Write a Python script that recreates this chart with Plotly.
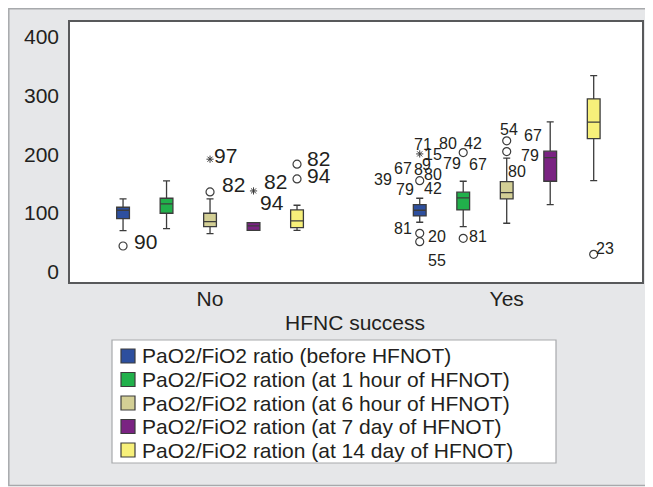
import plotly.graph_objects as go

# ---------------- data ----------------
categories = ["No", "Yes"]
series_names = [
    "PaO2/FiO2 ratio (before HFNOT)",
    "PaO2/FiO2 ration (at 1 hour of HFNOT)",
    "PaO2/FiO2 ration (at 6 hour of HFNOT)",
    "PaO2/FiO2 ration (at 7 day of HFNOT)",
    "PaO2/FiO2 ration (at 14 day of HFNOT)",
]
# per series: [No, Yes]
lower_fence = [[69.8, 84.2], [73.3, 76.7], [64.7, 82.5], [70.5, 114.1], [70.5, 155.0]]
q1_vals     = [[90.3, 94.9], [99.5, 105.1], [76.7, 123.9], [70.5, 154.0], [75.0, 226.6]]
median_vals = [[104.6, 104.6], [115.3, 125.6], [85.2, 134.6], [77.9, 194.2], [86.4, 254.5]]
q3_vals     = [[109.7, 114.1], [125.0, 135.3], [99.5, 153.3], [83.5, 205.1], [105.1, 294.2]]
upper_fence = [[123.9, 125.0], [154.5, 154.0], [123.9, 193.2], [83.5, 255.0], [113.1, 333.9]]

# outliers: (series index, category index, value)
circle_outliers = [
    (0, 0, 43.8),
    (2, 0, 135.8),
    (4, 0, 183.0), (4, 0, 157.9),
    (0, 1, 155.0), (0, 1, 65.4), (0, 1, 51.1),
    (1, 1, 202.7), (1, 1, 56.9),
    (2, 1, 222.7), (2, 1, 204.4),
    (4, 1, 29.6),
]
star_outliers = [
    (2, 0, 191.5),
    (3, 0, 137.5),
    (0, 1, 200.5),
]

# case-number labels (text, x, y) in axis units
labels_no = [
    ("90", -0.264, 51.0), ("97", 0.008, 197.0), ("82", 0.034, 147.7),
    ("82", 0.176, 153.0), ("94", 0.162, 117.5),
    ("82", 0.320, 193.0), ("94", 0.320, 163.5),
]
labels_yes = [
    ("71", 0.719, 215.9), ("80", 0.803, 218.7), ("42", 0.887, 218.7),
    ("15", 0.753, 200.0), ("67", 0.652, 176.1), ("8", 0.702, 173.3),
    ("9", 0.730, 183.0), ("79", 0.815, 184.7), ("67", 0.904, 181.8),
    ("39", 0.584, 156.2), ("80", 0.753, 164.7), ("79", 0.657, 139.2),
    ("42", 0.753, 142.1), ("81", 0.652, 73.9), ("20", 0.764, 59.6),
    ("55", 0.764, 19.9), ("81", 0.904, 59.6), ("54", 1.009, 241.4),
    ("80", 1.034, 170.4), ("67", 1.090, 231.2), ("79", 1.079, 197.6),
    ("23", 1.331, 39.9),
]

y_ticks = [0, 100, 200, 300, 400]

# ---------------- style ----------------
colors = ["#2d4f9e", "#21b04b", "#d3cf95", "#7a2382", "#f7f07a"]
edge = "#3c3c3c"
txt = "#231f20"
font_family = "Liberation Sans, Arial, sans-serif"
slot = 0.1466
box_w = 0.043

def xpos(si, ci):
    return ci + (si - 2) * slot

# page-pixel helpers (plot area on the page: x 70..642, y 22..282)
def px(x):
    return (x - 70) / 572.0

def py(y):
    return (282 - y) / 260.0

fig = go.Figure()
for si, name in enumerate(series_names):
    fig.add_trace(go.Box(
        name=name,
        x=[xpos(si, ci) for ci in range(len(categories))],
        q1=q1_vals[si], median=median_vals[si], q3=q3_vals[si],
        lowerfence=lower_fence[si], upperfence=upper_fence[si],
        width=box_w, whiskerwidth=0.55,
        fillcolor=colors[si],
        line=dict(color=edge, width=1.3),
        boxpoints=False, hoverinfo="skip", showlegend=False,
    ))

fig.add_trace(go.Scatter(
    x=[xpos(s, c) for s, c, v in circle_outliers],
    y=[v for s, c, v in circle_outliers],
    mode="markers", showlegend=False, hoverinfo="skip",
    marker=dict(symbol="circle-open", size=8, color=edge, line=dict(width=1.2)),
))
fig.add_trace(go.Scatter(
    x=[xpos(s, c) for s, c, v in star_outliers],
    y=[v for s, c, v in star_outliers],
    mode="markers", showlegend=False, hoverinfo="skip",
    marker=dict(symbol="asterisk-open", size=6, color=edge, line=dict(width=1)),
))

annotations = []
for t, x, y in labels_no:
    annotations.append(dict(x=x, y=y, xref="x", yref="y", text=t, showarrow=False,
                            xanchor="left", yanchor="middle",
                            font=dict(size=21, color=txt, family=font_family)))
for t, x, y in labels_yes:
    annotations.append(dict(x=x, y=y, xref="x", yref="y", text=t, showarrow=False,
                            xanchor="center", yanchor="middle",
                            font=dict(size=16, color=txt, family=font_family)))
annotations.append(dict(x=px(355), y=py(323), xref="paper", yref="paper", text="HFNC success",
                        showarrow=False, xanchor="center", yanchor="middle",
                        font=dict(size=21, color=txt, family=font_family)))

shapes = [
    dict(type="rect", xref="paper", yref="paper", layer="below",
         x0=px(8.8), x1=px(670), y0=py(485.5), y1=py(8.8),
         fillcolor="#e6e7e9", line=dict(color="#a7a9ac", width=1.5)),
    dict(type="rect", xref="paper", yref="paper", layer="below",
         x0=0, x1=1, y0=0, y1=1, fillcolor="white", line=dict(width=0)),
    dict(type="rect", xref="paper", yref="paper", layer="below",
         x0=px(112), x1=px(556), y0=py(463), y1=py(340),
         fillcolor="white", line=dict(color="#a7a9ac", width=1.2)),
]

# hand-drawn legend (square swatch + real text per series)
row0, row_step = 356.0, 23.5
for si, name in enumerate(series_names):
    cy = row0 + si * row_step
    shapes.append(dict(type="rect", xref="paper", yref="paper", layer="above",
                       x0=px(121), x1=px(135), y0=py(cy + 7), y1=py(cy - 7),
                       fillcolor=colors[si], line=dict(color="#3c3c3c", width=1.2)))
    annotations.append(dict(x=px(140), y=py(cy), xref="paper", yref="paper", text=name,
                            showarrow=False, xanchor="left", yanchor="middle",
                            font=dict(size=21, color=txt, family=font_family)))

# the page body adds an 8 px offset, so the figure is 8 px smaller and margins shifted
OFF = 8
fig.update_layout(
    width=653 - OFF, height=487 - OFF,
    margin=dict(l=70 - OFF, r=11, t=22 - OFF, b=205, autoexpand=False),
    paper_bgcolor="white", plot_bgcolor="rgba(0,0,0,0)",
    font=dict(family=font_family, color=txt, size=21),
    showlegend=False,
    xaxis=dict(range=[-0.472, 1.456], tickvals=[0, 1], ticktext=categories,
               showgrid=False, zeroline=False, showline=True, mirror=True,
               linecolor="#58595b", linewidth=1.5,
               ticks="", ticklabelstandoff=-3,
               tickfont=dict(size=21, color=txt)),
    yaxis=dict(range=[-17.5, 425], tickvals=y_ticks,
               showgrid=False, zeroline=False, showline=True, mirror=True,
               linecolor="#58595b", linewidth=1.5,
               ticks="outside", ticklen=5, tickcolor="rgba(0,0,0,0)",
               tickfont=dict(size=21, color=txt)),
    annotations=annotations,
    shapes=shapes,
)

fig.write_html("out.html")
